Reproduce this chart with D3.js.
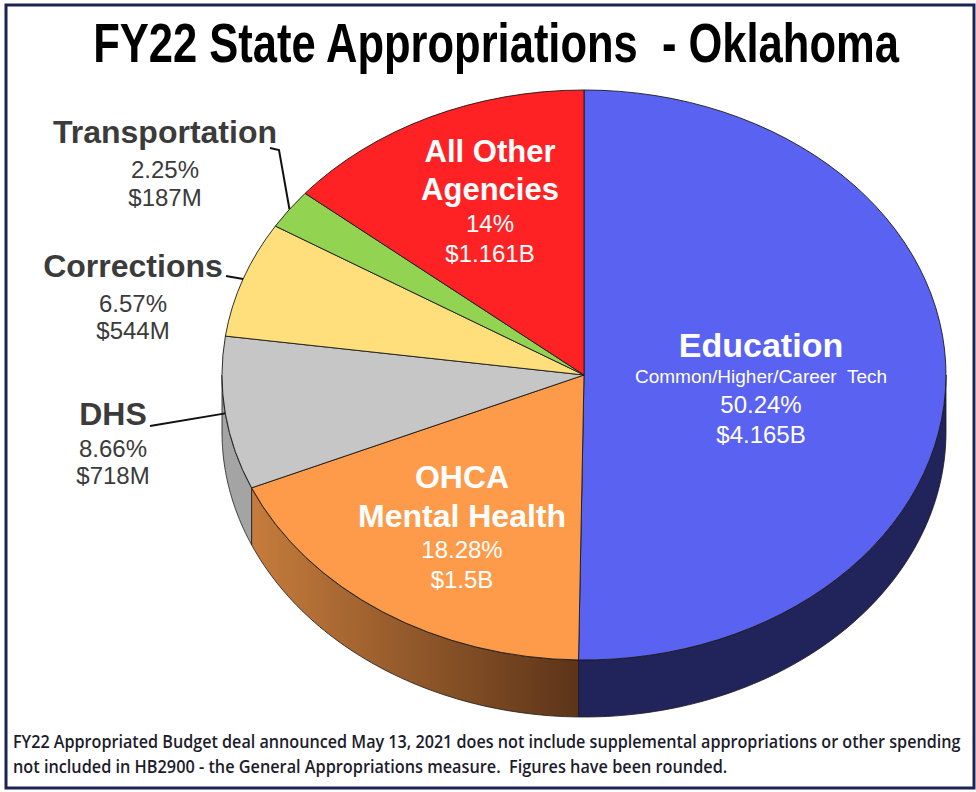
<!DOCTYPE html>
<html>
<head>
<meta charset="utf-8">
<script src="https://cdn.jsdelivr.net/npm/d3@7"></script>
<style>
  body { margin: 0; background: #fff; }
  text { font-family: "Liberation Sans", Arial, sans-serif; white-space: pre; }
</style>
</head>
<body>
<div id="chart"></div>
<script>
// ---- data ----
const agencies = ["Education", "OHCA Mental Health", "DHS", "Corrections", "Transportation", "All Other Agencies"];
const shares = [50.24, 18.28, 8.66, 6.57, 2.25, 14];
const shareLabels = ["50.24%", "18.28%", "8.66%", "6.57%", "2.25%", "14%"];
const amountLabels = ["$4.165B", "$1.5B", "$718M", "$544M", "$187M", "$1.161B"];
const nameLines = [["Education"], ["OHCA", "Mental Health"], ["DHS"], ["Corrections"], ["Transportation"], ["All Other", "Agencies"]];
const subLabels = ["Common/Higher/Career  Tech", null, null, null, null, null];
const titleText = "FY22 State Appropriations  - Oklahoma";
const noteLines = [
  "FY22 Appropriated Budget deal announced May 13, 2021 does not include supplemental appropriations or other spending",
  "not included in HB2900 - the General Appropriations measure.  Figures have been rounded."
];

// ---- styles / layout ----
const topColors = ["#5a62f2", "#fe9b4b", "#c6c6c6", "#ffdf7b", "#92d451", "#fe2224"];
const sideColors = ["#20245b", "url(#ohcaSide)", "#a4a4a4", "#c9b060", "#6fa23a", "#b01618"];
const insideLabel = [true, true, false, false, false, true];

const width = 976, height = 792;
const cx = 584, cy = 375, rx = 362, ry = 285, depth = 57;

// label layout: centre x, baseline of first name line, gaps to following lines
const labelLayout = [
  {x: 761, y: 357, nameSize: 34, gaps: [26, 30, 30]},
  {x: 462, y: 488, nameSize: 32, gaps: [39, 31, 30]},
  {x: 113, y: 425, nameSize: 32, gaps: [32, 27]},
  {x: 133, y: 277, nameSize: 32, gaps: [35, 27]},
  {x: 165, y: 143, nameSize: 32, gaps: [35, 28]},
  {x: 490, y: 162, nameSize: 31, gaps: [38, 32, 30]}
];
// leader line start points (next to the outside labels)
const leaderStarts = {2: [[150, 426]], 3: [[226, 276]], 4: [[270, 148], [279, 150]]};

const svg = d3.select("#chart")
  .append("svg")
  .attr("width", width)
  .attr("height", height);

const defs = svg.append("defs");

// squeeze a text horizontally to a wanted width (condensed look)
function fitWidth(sel, x, y, w) {
  const natural = sel.node().getComputedTextLength();
  sel.attr("x", 0).attr("y", 0)
    .attr("transform", `translate(${x},${y}) scale(${w / natural},1)`);
}

// pie angles
const pie = d3.pie().sort(null).value(d => d);
const arcsData = pie(shares);

// ellipse point for a d3 pie angle
const ePt = (a, dy) => [cx + rx * Math.sin(a), cy + dy - ry * Math.cos(a)];

// gradient for the OHCA side wall
const oh = arcsData[1];
const ohLeft = ePt(Math.min(oh.endAngle, 1.5 * Math.PI), 0)[0];
const ohRight = ePt(Math.max(oh.startAngle, 0.5 * Math.PI), 0)[0];
const grad = defs.append("linearGradient")
  .attr("id", "ohcaSide")
  .attr("gradientUnits", "userSpaceOnUse")
  .attr("x1", ohLeft).attr("x2", ohRight).attr("y1", 0).attr("y2", 0);
grad.append("stop").attr("offset", "0%").attr("stop-color", "#c67c3c");
grad.append("stop").attr("offset", "100%").attr("stop-color", "#5c3418");

// frame
svg.append("rect")
  .attr("x", 6).attr("y", 5)
  .attr("width", 968).attr("height", 783)
  .attr("fill", "none")
  .attr("stroke", "#1b2452")
  .attr("stroke-width", 3);

// title
const title = svg.append("text")
  .attr("text-anchor", "middle")
  .style("font-family", "'Liberation Sans Narrow', 'Arial Narrow', 'Liberation Sans', Arial, sans-serif")
  .style("font-weight", "bold")
  .style("font-size", "56px")
  .attr("fill", "#000")
  .text(titleText);
fitWidth(title, 496, 62, 806);

// side walls (front half only)
const line = d3.line();
const sides = svg.append("g");
arcsData.forEach((d, i) => {
  const a0 = Math.max(d.startAngle, 0.5 * Math.PI);
  const a1 = Math.min(d.endAngle, 1.5 * Math.PI);
  if (a1 <= a0) return;
  const steps = d3.range(0, 61).map(k => a0 + (a1 - a0) * k / 60);
  const pts = steps.map(a => ePt(a, 0)).concat(steps.slice().reverse().map(a => ePt(a, depth)));
  sides.append("path")
    .attr("d", line(pts) + "Z")
    .attr("fill", sideColors[i])
    .attr("stroke", "#1a1a1a")
    .attr("stroke-width", 0.8)
    .attr("stroke-linejoin", "round");
});

// top faces: circular d3 arcs squashed into the ellipse
const arc = d3.arc().innerRadius(0).outerRadius(rx);
svg.append("g")
  .attr("transform", `translate(${cx},${cy}) scale(1,${ry / rx})`)
  .selectAll("path")
  .data(arcsData)
  .join("path")
  .attr("d", arc)
  .attr("fill", (d, i) => topColors[i])
  .attr("stroke", "#1a1a1a")
  .attr("stroke-width", 0.9)
  .attr("vector-effect", "non-scaling-stroke")
  .attr("stroke-linejoin", "round");

// leader lines for the outside labels
Object.keys(leaderStarts).forEach(k => {
  const d = arcsData[+k];
  const mid = (d.startAngle + d.endAngle) / 2;
  const pts = leaderStarts[k].concat([ePt(mid, 0)]);
  svg.append("path")
    .attr("d", line(pts))
    .attr("fill", "none")
    .attr("stroke", "#111")
    .attr("stroke-width", 2);
});

// labels
const labels = svg.append("g").attr("text-anchor", "middle");
agencies.forEach((name, i) => {
  const L = labelLayout[i];
  const col = insideLabel[i] ? "#fff" : "#3b3b3b";
  const rows = [];
  nameLines[i].forEach(t => rows.push({t, size: L.nameSize, bold: true}));
  if (subLabels[i]) rows.push({t: subLabels[i], size: 19, bold: false});
  rows.push({t: shareLabels[i], size: 24, bold: false});
  rows.push({t: amountLabels[i], size: 24, bold: false});
  let y = L.y;
  rows.forEach((r, j) => {
    if (j > 0) y += L.gaps[j - 1];
    labels.append("text")
      .attr("x", L.x).attr("y", y)
      .attr("fill", col)
      .style("font-size", r.size + "px")
      .style("font-weight", r.bold ? "bold" : "normal")
      .text(r.t);
  });
});

// footnote
const noteWidths = [948, 715];
noteLines.forEach((t, i) => {
  const note = svg.append("text")
    .style("font-family", "'Open Sans', 'Noto Sans', sans-serif")
    .style("font-weight", 600)
    .style("font-size", "18px")
    .attr("fill", "#1c1c2c")
    .text(t);
  fitWidth(note, 13, 748 + i * 25, noteWidths[i]);
});
</script>
</body>
</html>
